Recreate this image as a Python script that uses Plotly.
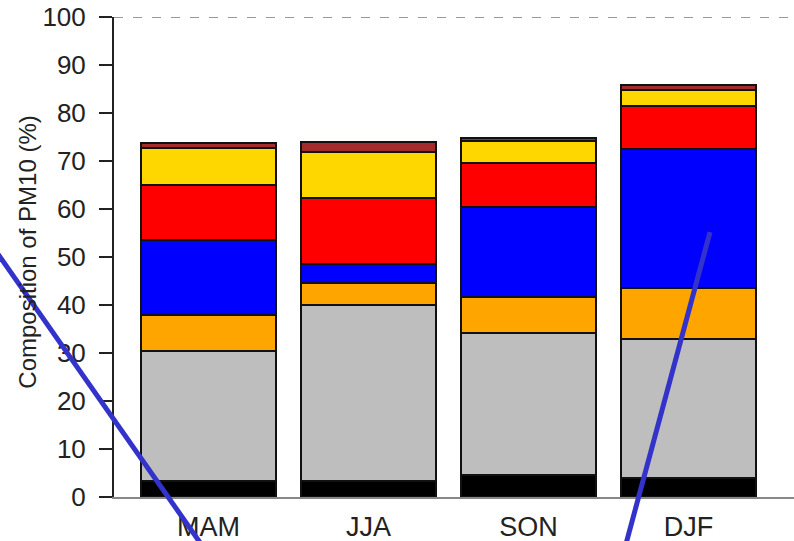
import plotly.graph_objects as go

seasons = ["MAM", "JJA", "SON", "DJF"]

# segment heights (%), bottom to top
black_seg = [3.3, 3.3, 4.5, 3.9]
gray_seg = [27.2, 36.8, 29.6, 29.1]
orange_seg = [7.4, 4.4, 7.5, 10.5]
blue_seg = [15.7, 4.1, 18.9, 29.0]
red_seg = [11.5, 13.6, 9.0, 8.9]
gold_seg = [7.7, 9.6, 4.6, 3.4]
brown_seg = [0.9, 2.1, 0.7, 1.1]

yticks = [0, 10, 20, 30, 40, 50, 60, 70, 80, 90, 100]
ytitle = "Composition of PM10 (%)"

series = [
    ("Black", black_seg, "#000000"),
    ("Gray", gray_seg, "#bebebe"),
    ("Orange", orange_seg, "#ffa500"),
    ("Blue", blue_seg, "#0000ff"),
    ("Red", red_seg, "#ff0000"),
    ("Gold", gold_seg, "#ffd700"),
    ("Brown", brown_seg, "#a52a2a"),
]

fig = go.Figure()
for name, vals, col in series:
    fig.add_trace(go.Bar(
        x=seasons, y=vals, name=name,
        marker=dict(color=col, line=dict(color="#111111", width=2)),
        showlegend=False,
    ))

FONT = "Liberation Sans, Arial, sans-serif"

fig.update_layout(
    barmode="stack",
    bargap=0.16,
    width=794, height=541,
    margin=dict(l=114, r=0, t=17, b=44, autoexpand=False),
    plot_bgcolor="white", paper_bgcolor="white",
    font=dict(family=FONT, color="#222222"),
    xaxis=dict(
        range=[-0.59, 3.66],
        showline=True, linecolor="#888888", linewidth=1.5,
        ticks="", tickfont=dict(size=27, family=FONT, color="#222222"),
        showgrid=False, zeroline=False, fixedrange=True,
        ticklabelstandoff=5,
    ),
    yaxis=dict(
        range=[0, 100],
        tickvals=yticks,
        showline=True, linecolor="#222222", linewidth=2,
        ticks="outside", ticklen=13, tickwidth=2, tickcolor="#222222",
        tickfont=dict(size=26, family=FONT, color="#222222"),
        ticklabelstandoff=8,
        ticklabeloverflow="allow",
        showgrid=False, zeroline=False,
    ),
)

fig.add_annotation(text=ytitle, xref="paper", yref="paper",
                   x=-0.1265, y=0.511, xanchor="center", yanchor="middle",
                   textangle=-90, showarrow=False,
                   font=dict(size=24, family=FONT, color="#222222"))

# dashed reference line at 100 %
fig.add_shape(type="line", xref="paper", yref="y", x0=0, x1=1, y0=100, y1=100,
              line=dict(color="#777777", width=1.5, dash="9px,10px"))

# overlaid blue pointer lines
fig.add_shape(type="line", xref="paper", yref="paper",
              x0=-0.175, y0=0.515, x1=0.129, y1=-0.10,
              line=dict(color="#3333cc", width=5))
fig.add_shape(type="line", xref="paper", yref="paper",
              x0=0.8765, y0=0.552, x1=0.7525, y1=-0.10,
              line=dict(color="#3333cc", width=5))

fig.write_html("out.html", config={"displayModeBar": False},
               post_script="document.body.style.margin='0px';")
